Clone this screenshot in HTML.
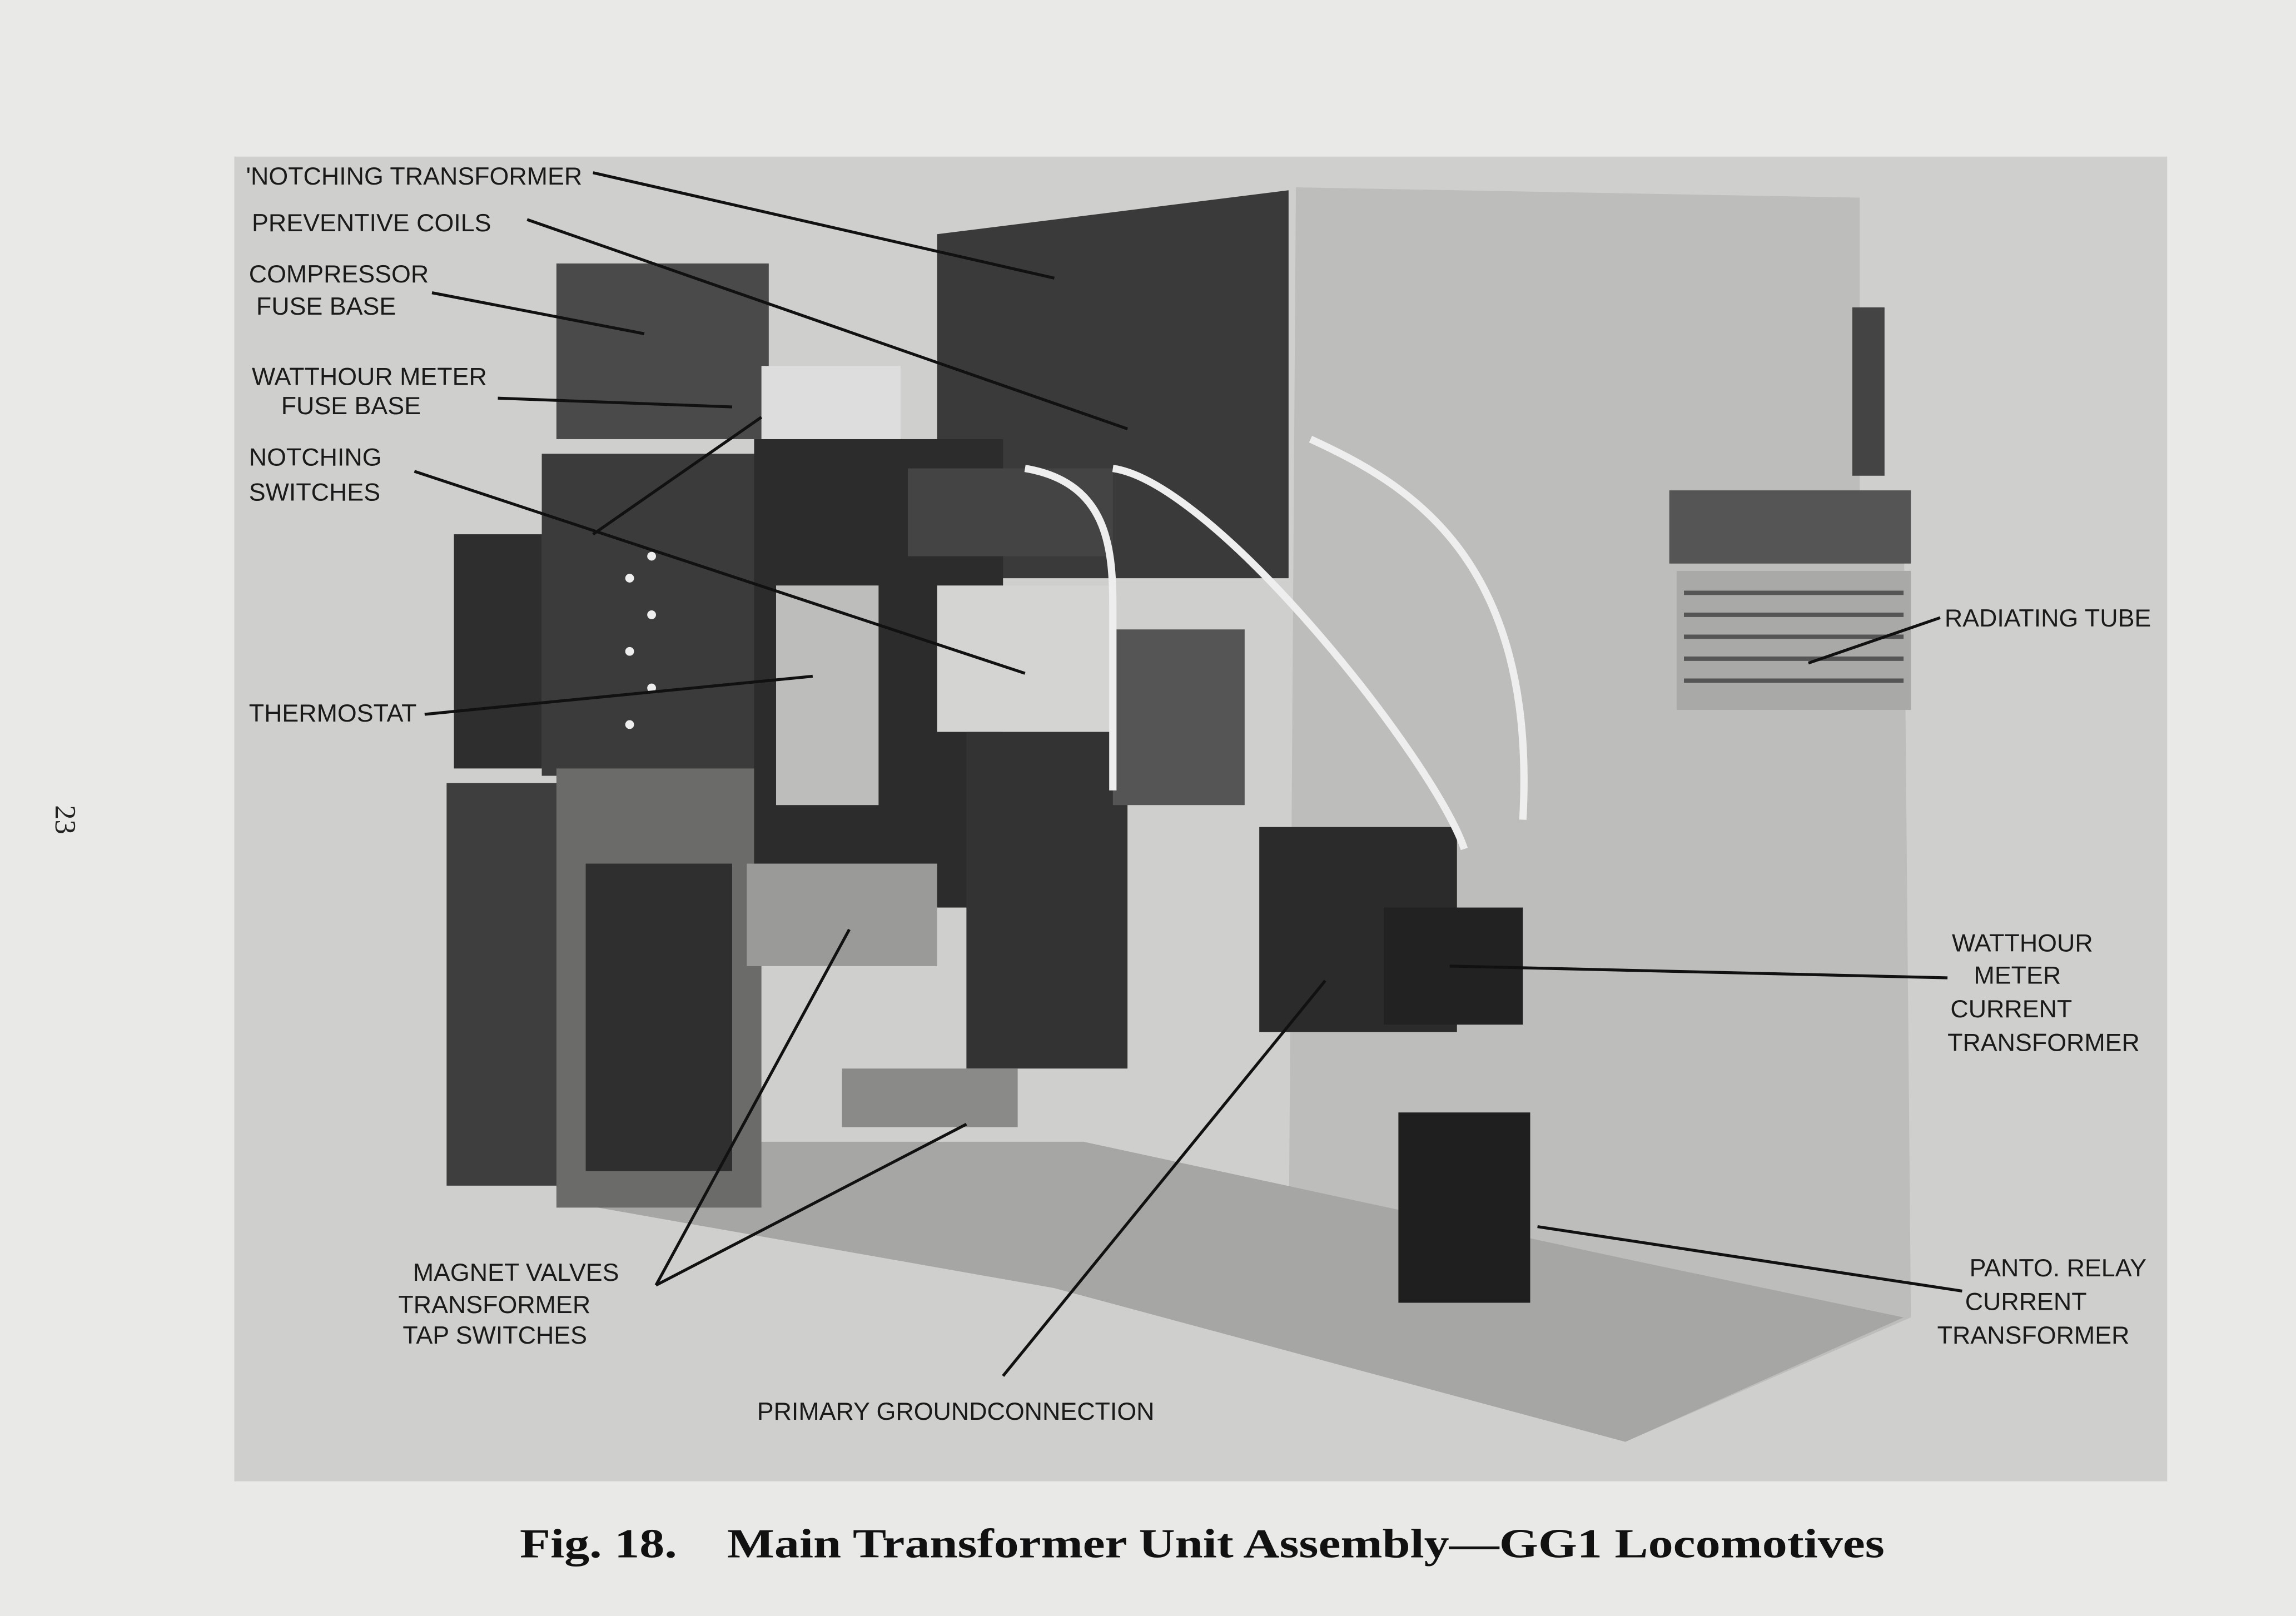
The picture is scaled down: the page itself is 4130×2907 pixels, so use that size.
<!DOCTYPE html>
<html><head><meta charset="utf-8"><style>
html,body{margin:0;padding:0;background:#e9e9e7;}
svg{display:block}
.l{font-family:"Liberation Sans Narrow","Liberation Sans",sans-serif;font-size:17px;fill:#1a1a1a;}
</style></head><body>
<svg width="4130" height="2907" viewBox="0 0 1568 1104" preserveAspectRatio="none" xmlns="http://www.w3.org/2000/svg">
<rect width="1568" height="1104" fill="#e9e9e7"/>
<rect x="160" y="107" width="1320" height="905" fill="#cfcfcd"/>
<polygon points="640,160 880,130 880,395 640,395" fill="#3a3a3a"/>
<polygon points="885,128 1270,135 1270,340 1300,340 1305,900 1110,985 880,870" fill="#bdbdbb"/>
<rect x="1140" y="335" width="165" height="50" fill="#555"/>
<rect x="1145" y="390" width="160" height="95" fill="#a9a9a7"/>
<g stroke="#555" stroke-width="3">
<line x1="1150" y1="405" x2="1300" y2="405"/><line x1="1150" y1="420" x2="1300" y2="420"/>
<line x1="1150" y1="435" x2="1300" y2="435"/><line x1="1150" y1="450" x2="1300" y2="450"/>
<line x1="1150" y1="465" x2="1300" y2="465"/></g>
<rect x="1265" y="210" width="22" height="115" fill="#444"/>
<polygon points="380,820 720,880 1110,985 1300,900 1110,860 740,780 380,780" fill="#a6a6a4"/>
<rect x="305" y="535" width="80" height="275" fill="#3e3e3e"/>
<rect x="310" y="365" width="60" height="160" fill="#2e2e2e"/>
<rect x="380" y="180" width="145" height="120" fill="#4a4a4a"/>
<rect x="370" y="310" width="150" height="220" fill="#3b3b3b"/>
<rect x="380" y="525" width="140" height="300" fill="#6b6b69"/>
<rect x="400" y="590" width="100" height="210" fill="#2f2f2f"/>
<rect x="515" y="300" width="170" height="320" fill="#2c2c2c"/>
<rect x="520" y="250" width="95" height="50" fill="#ddd"/>
<rect x="530" y="400" width="70" height="150" fill="#bdbdbb"/>
<rect x="620" y="320" width="140" height="60" fill="#444"/>
<rect x="640" y="400" width="120" height="100" fill="#d4d4d2"/>
<rect x="660" y="500" width="110" height="230" fill="#333"/>
<rect x="510" y="590" width="130" height="70" fill="#9a9a98"/>
<rect x="575" y="730" width="120" height="40" fill="#8a8a88"/>
<rect x="760" y="430" width="90" height="120" fill="#555"/>
<rect x="860" y="565" width="135" height="140" fill="#2b2b2b"/>
<rect x="945" y="620" width="95" height="80" fill="#222"/>
<rect x="955" y="760" width="90" height="130" fill="#1f1f1f"/>
<g fill="#eee"><circle cx="430" cy="395" r="3"/><circle cx="445" cy="420" r="3"/><circle cx="430" cy="445" r="3"/><circle cx="445" cy="470" r="3"/><circle cx="430" cy="495" r="3"/><circle cx="445" cy="380" r="3"/></g>
<path d="M700,320 C760,330 760,380 760,420 L760,540 M760,320 C830,330 980,520 1000,580 M1040,560 C1050,380 960,330 895,300" fill="none" stroke="#eee" stroke-width="5"/>
<g stroke="#111" stroke-width="2" fill="none">
<line x1="405" y1="118" x2="720" y2="190"/>
<line x1="360" y1="150" x2="770" y2="293"/>
<line x1="295" y1="200" x2="440" y2="228"/>
<line x1="340" y1="272" x2="500" y2="278"/>
<line x1="283" y1="322" x2="700" y2="460"/>
<line x1="290" y1="488" x2="555" y2="462"/>
<line x1="520" y1="285" x2="405" y2="365"/>
<line x1="1325" y1="422" x2="1235" y2="453"/>
<line x1="1330" y1="668" x2="990" y2="660"/>
<line x1="1340" y1="882" x2="1050" y2="838"/>
<line x1="448" y1="878" x2="580" y2="635"/>
<line x1="448" y1="878" x2="660" y2="768"/>
<line x1="685" y1="940" x2="905" y2="670"/>
</g>
<g class="l">
<text x="168" y="126">'NOTCHING TRANSFORMER</text>
<text x="172" y="158">PREVENTIVE COILS</text>
<text x="170" y="193">COMPRESSOR</text>
<text x="175" y="215">FUSE BASE</text>
<text x="172" y="263">WATTHOUR METER</text>
<text x="192" y="283">FUSE BASE</text>
<text x="170" y="318">NOTCHING</text>
<text x="170" y="342">SWITCHES</text>
<text x="170" y="493">THERMOSTAT</text>
<text x="1328" y="428">RADIATING TUBE</text>
<text x="1333" y="650">WATTHOUR</text>
<text x="1348" y="672">METER</text>
<text x="1332" y="695">CURRENT</text>
<text x="1330" y="718">TRANSFORMER</text>
<text x="1345" y="872">PANTO. RELAY</text>
<text x="1342" y="895">CURRENT</text>
<text x="1323" y="918">TRANSFORMER</text>
<text x="282" y="875">MAGNET VALVES</text>
<text x="272" y="897">TRANSFORMER</text>
<text x="275" y="918">TAP SWITCHES</text>
<text x="517" y="970">PRIMARY  GROUNDCONNECTION</text>
</g>
<text x="355" y="1064" textLength="932" lengthAdjust="spacingAndGlyphs" font-family="'Liberation Serif',serif" font-weight="bold" font-size="28" fill="#111" xml:space="preserve">Fig. 18.    Main Transformer Unit Assembly—GG1 Locomotives</text>
<text x="0" y="0" transform="translate(38,550) rotate(90)" font-family="'Liberation Serif',serif" font-size="20" fill="#222">23</text>
</svg>
</body></html>
